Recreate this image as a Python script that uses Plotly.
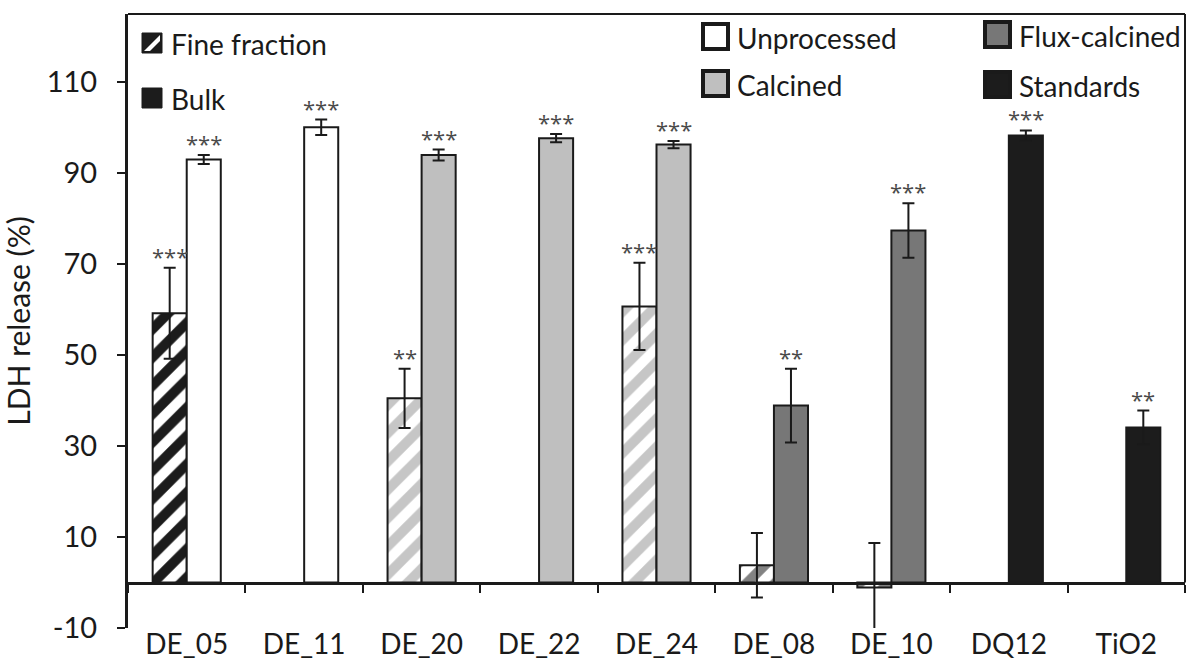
import plotly.graph_objects as go

# ---- data -------------------------------------------------------------
samples = ["DE_05", "DE_11", "DE_20", "DE_22", "DE_24", "DE_08", "DE_10", "DQ12", "TiO2"]
treatment = ["Unprocessed", "Unprocessed", "Calcined", "Calcined", "Calcined",
             "Flux-calcined", "Flux-calcined", "Standards", "Standards"]

fine_ldh = [59.2, None, 40.5, None, 60.7, 3.8, -1.1, None, None]
fine_sd = [10.0, None, 6.5, None, 9.6, 7.1, 9.8, None, None]
fine_sig = ["***", "", "**", "", "***", "", "", "", ""]

bulk_ldh = [93.0, 100.1, 94.0, 97.7, 96.3, 38.9, 77.4, 98.3, 34.1]
bulk_sd = [1.0, 1.7, 1.2, 0.9, 0.8, 8.1, 6.0, 1.1, 3.7]
bulk_sig = ["***", "***", "***", "***", "***", "**", "***", "***", "**"]

y_ticks = [-10, 10, 30, 50, 70, 90, 110]
Y_MIN, Y_MAX = -10, 125

# ---- style ------------------------------------------------------------
FONT = "Lato"
INK = "#1a1a1a"
FILL = {"Unprocessed": "#ffffff", "Calcined": "#bfbfbf",
        "Flux-calcined": "#777777", "Standards": "#1c1c1c"}
STRIPE = {"Unprocessed": "#1c1c1c", "Calcined": "#c6c6c6",
          "Flux-calcined": "#828282", "Standards": "#1c1c1c"}

W, H = 1187, 662
ML, MR, MT, MB = 128, 2, 14, 34
BARGAP = 0.42


def px(x):
    return (x - ML) / (W - ML - MR)


def py(y):
    return (H - MB - y) / (H - MT - MB)


fig = go.Figure()

fig.add_trace(go.Bar(
    name="Fine fraction", x=samples, y=fine_ldh,
    marker=dict(
        color="#ffffff",
        line=dict(color=INK, width=2),
        pattern=dict(shape="/", fgcolor=[STRIPE[t] for t in treatment],
                     bgcolor="#ffffff", size=20, solidity=0.5,
                     fillmode="replace"),
    ),
    error_y=dict(type="data", array=fine_sd, color=INK, thickness=2, width=6),
    showlegend=False, hoverinfo="x+y",
))

fig.add_trace(go.Bar(
    name="Bulk", x=samples, y=bulk_ldh,
    marker=dict(color=[FILL[t] for t in treatment],
                line=dict(color=INK, width=2)),
    error_y=dict(type="data", array=bulk_sd, color=INK, thickness=2, width=6),
    showlegend=False, hoverinfo="x+y",
))

# significance stars above the error bars
cat_px = (W - ML - MR) / len(samples)
slot = (1 - BARGAP) * cat_px / 4
annotations = []
for vals, sds, sigs, shift in ((fine_ldh, fine_sd, fine_sig, -slot),
                               (bulk_ldh, bulk_sd, bulk_sig, slot)):
    for s, v, e, sig in zip(samples, vals, sds, sigs):
        if v is None or not sig:
            continue
        annotations.append(dict(
            x=s, y=v + e, xref="x", yref="y", text=sig, showarrow=False,
            xshift=shift, yshift=12, yanchor="middle",
            font=dict(family="Open Sans", size=22, color="#4a4a4a"),
        ))

# legend: icons as shapes, labels as annotations
shapes = []
legend_items = [
    ("Fine fraction", 142, 33, 20, None),
    ("Bulk", 142, 88, 20, "#1c1c1c"),
    ("Unprocessed", 703, 24, 25, FILL["Unprocessed"]),
    ("Calcined", 703, 71, 25, FILL["Calcined"]),
    ("Flux-calcined", 985, 22, 25, FILL["Flux-calcined"]),
    ("Standards", 985, 72, 25, FILL["Standards"]),
]
for label, x0, y0, size, color in legend_items:
    if color is None:
        shapes.append(dict(type="rect", xref="paper", yref="paper",
                           x0=px(x0), x1=px(x0 + size), y0=py(y0 + size), y1=py(y0),
                           fillcolor="#1c1c1c", line=dict(color=INK, width=1)))
        path = "M {} {} L {} {} L {} {} L {} {} Z".format(
            px(x0 + 2), py(y0 + size - 2), px(x0 + size - 2), py(y0 + 2),
            px(x0 + size - 2), py(y0 + 8), px(x0 + 8), py(y0 + size - 2))
        shapes.append(dict(type="path", xref="paper", yref="paper", path=path,
                           fillcolor="#ffffff", line=dict(width=0)))
    else:
        bw = 4 if size > 20 else 1
        shapes.append(dict(type="rect", xref="paper", yref="paper",
                           x0=px(x0), x1=px(x0 + size), y0=py(y0 + size), y1=py(y0),
                           fillcolor=color, line=dict(color=INK, width=bw)))
    annotations.append(dict(
        x=px(x0 + size + 7), y=py(y0 + size / 2 + 1), xref="paper", yref="paper",
        text=label, showarrow=False, xanchor="left", yanchor="middle",
        font=dict(family=FONT, size=28, color=INK),
    ))

# frame: top edge and right edge down to the zero line
shapes.append(dict(type="line", xref="paper", yref="paper", x0=0, x1=1, y0=1, y1=1,
                   line=dict(color=INK, width=2)))
shapes.append(dict(type="line", xref="paper", yref="y", x0=1, x1=1, y0=0, y1=Y_MAX,
                   line=dict(color=INK, width=2)))

fig.update_layout(
    width=W, height=H,
    margin=dict(l=ML, r=MR, t=MT, b=MB),
    paper_bgcolor="#ffffff", plot_bgcolor="#ffffff",
    barmode="group", bargap=BARGAP, bargroupgap=0,
    font=dict(family=FONT, color=INK),
    shapes=shapes, annotations=annotations,
    xaxis=dict(
        type="category", categoryorder="array", categoryarray=samples,
        range=[-0.5, len(samples) - 0.5], automargin=False,
        anchor="free", position=(0 - Y_MIN) / (Y_MAX - Y_MIN),
        showline=True, linecolor=INK, linewidth=3,
        ticks="outside", ticklen=8, tickwidth=2, tickcolor=INK,
        tickson="boundaries", ticklabelstandoff=36,
        tickfont=dict(family=FONT, size=28, color=INK),
        showgrid=False, zeroline=False,
    ),
    yaxis=dict(
        range=[Y_MIN, Y_MAX], automargin=False,
        tickvals=y_ticks, ticktext=[str(v) for v in y_ticks],
        showline=True, linecolor=INK, linewidth=3,
        ticks="outside", ticklen=8, tickwidth=2, tickcolor=INK,
        ticklabelstandoff=14,
        tickfont=dict(family=FONT, size=29, color=INK),
        showgrid=False, zeroline=False,
        title=dict(text="LDH release (%)", font=dict(family=FONT, size=30, color=INK),
                   standoff=8),
    ),
)

fig.write_html("out.html")
